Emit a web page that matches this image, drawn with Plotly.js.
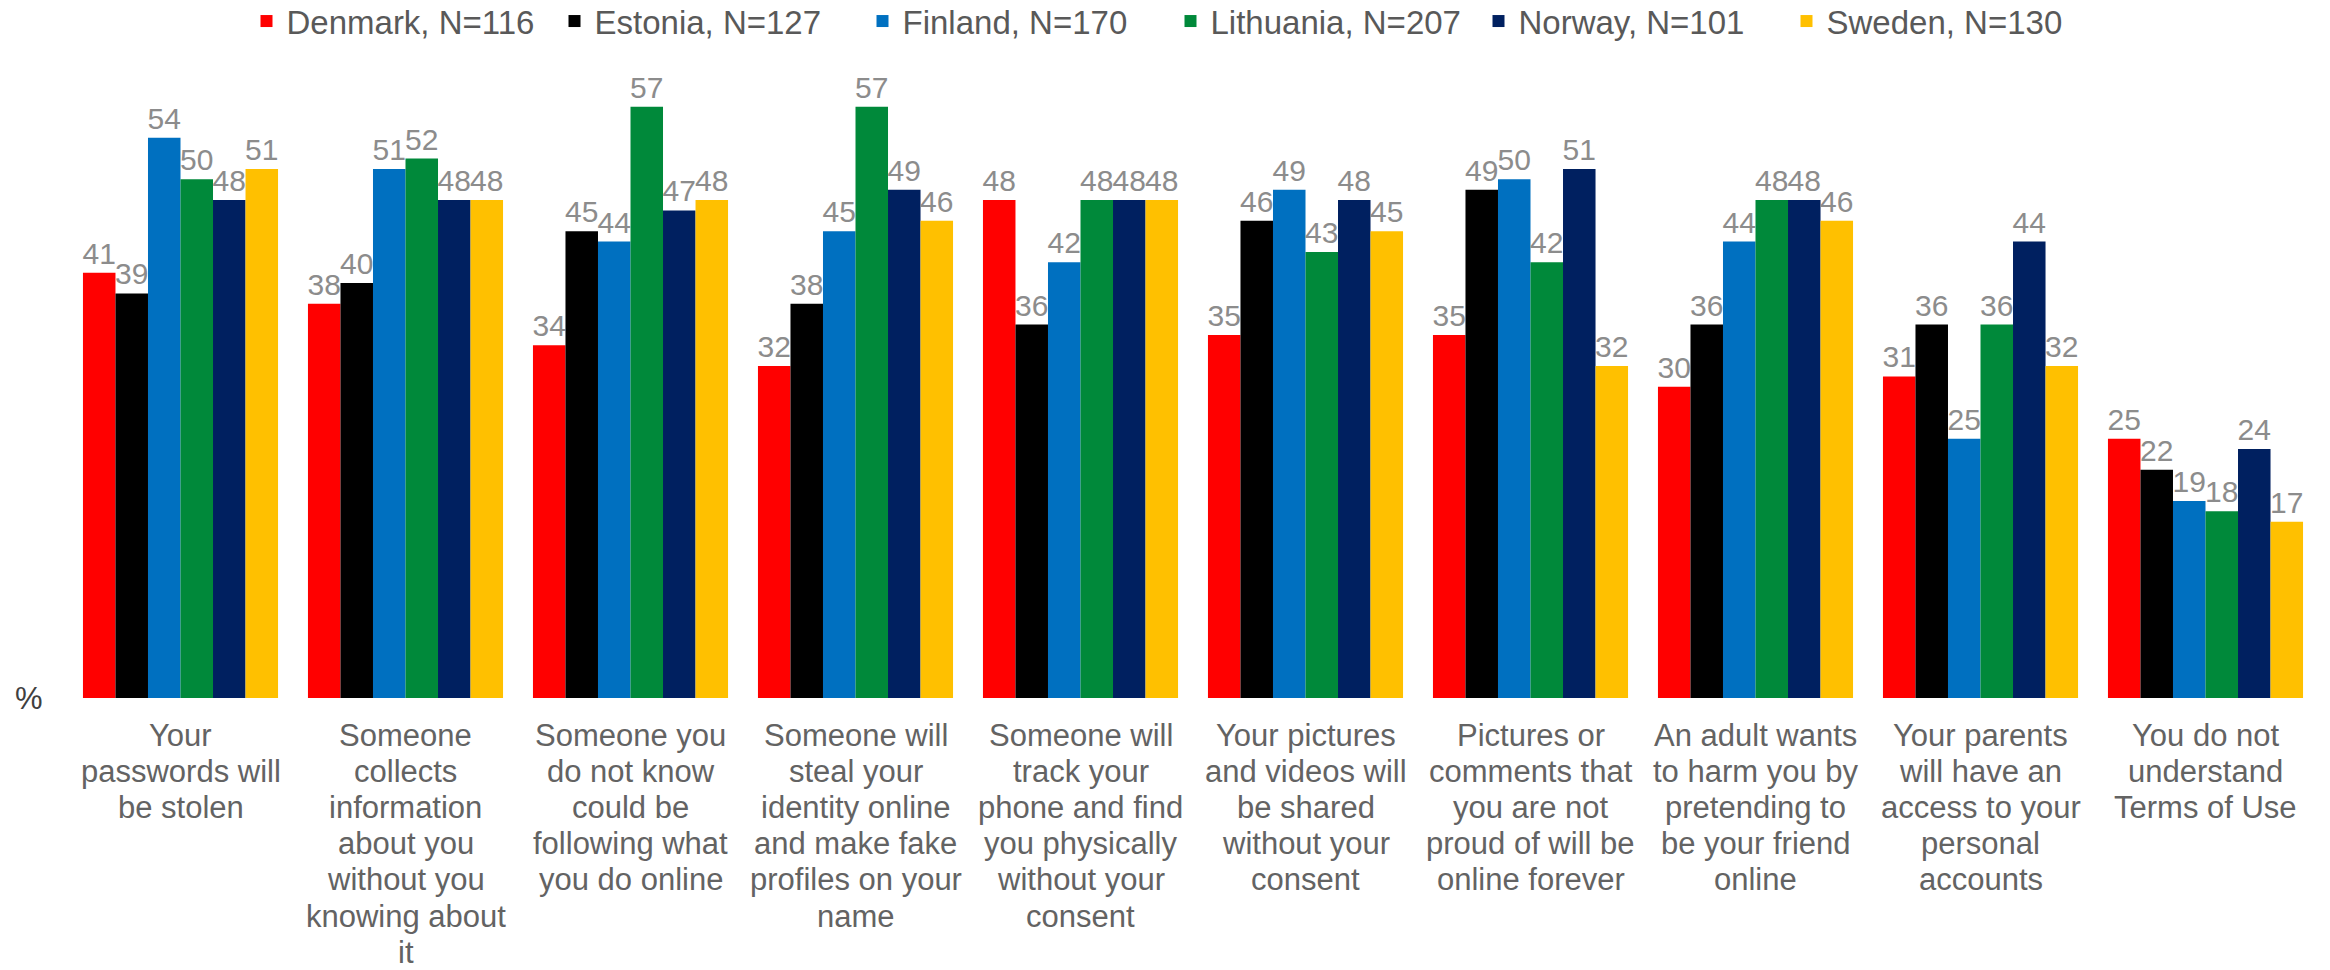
<!DOCTYPE html>
<html>
<head>
<meta charset="utf-8">
<script src="https://cdn.plot.ly/plotly-3.0.1.min.js"></script>
<style>html,body{margin:0;padding:0;background:#fff;}#chart{width:2330px;height:970px;}</style>
</head>
<body>
<div id="chart"></div>
<script>
const categories = [
  "Your<br>passwords will<br>be stolen",
  "Someone<br>collects<br>information<br>about you<br>without you<br>knowing about<br>it",
  "Someone you<br>do not know<br>could be<br>following what<br>you do online",
  "Someone will<br>steal your<br>identity online<br>and make fake<br>profiles on your<br>name",
  "Someone will<br>track your<br>phone and find<br>you physically<br>without your<br>consent",
  "Your pictures<br>and videos will<br>be shared<br>without your<br>consent",
  "Pictures or<br>comments that<br>you are not<br>proud of will be<br>online forever",
  "An adult wants<br>to harm you by<br>pretending to<br>be your friend<br>online",
  "Your parents<br>will have an<br>access to your<br>personal<br>accounts",
  "You do not<br>understand<br>Terms of Use"
];
const seriesNames = ["Denmark, N=116","Estonia, N=127","Finland, N=170","Lithuania, N=207","Norway, N=101","Sweden, N=130"];
const denmark   = [41,38,34,32,48,35,35,30,31,25];
const estonia   = [39,40,45,38,36,46,49,36,36,22];
const finland   = [54,51,44,45,42,49,50,44,25,19];
const lithuania = [50,52,57,57,48,43,42,48,36,18];
const norway    = [48,48,47,49,48,48,51,48,44,24];
const sweden    = [51,48,48,46,48,45,32,46,32,17];
const colors = ["#FF0000","#000000","#0070C0","#00893A","#002060","#FFC000"];
const allSeries = [denmark, estonia, finland, lithuania, norway, sweden];

const FONT = 'Liberation Sans, Arial, sans-serif';

const traces = allSeries.map((vals, i) => ({
  type: 'bar',
  name: seriesNames[i],
  x: categories,
  y: vals,
  marker: {color: colors[i], line: {width: 0}},
  text: vals.map(String),
  textposition: 'outside',
  textfont: {family: FONT, size: 30, color: '#8C8C8C'},
  constraintext: 'none',
  cliponaxis: false,
  hoverinfo: 'skip'
}));

// category labels: one annotation per line, to reproduce the tighter line spacing
const annotations = [];
const LINE = 36.2;
categories.forEach(cat => {
  cat.split('<br>').forEach((line, i) => {
    annotations.push({
      text: line, xref: 'x', yref: 'y', x: cat, y: 0,
      xanchor: 'center', yanchor: 'middle', showarrow: false,
      yshift: -(37 + LINE * i),
      font: {family: FONT, size: 31, color: '#636363'}
    });
  });
});
annotations.push({
  text: '%', xref: 'paper', yref: 'y', x: 0, y: 0, xanchor: 'left', yanchor: 'middle',
  showarrow: false, xshift: -55, font: {family: FONT, size: 31, color: '#404040'}
});

const layout = {
  width: 2330, height: 970,
  margin: {l: 68, r: 12, t: 60, b: 272, autoexpand: false},
  paper_bgcolor: '#fff', plot_bgcolor: '#fff',
  barmode: 'group',
  bargap: 0.133, bargroupgap: 0,
  showlegend: true,
  legend: {
    orientation: 'h', x: 0.490, xanchor: 'center', y: 1.061, yanchor: 'middle',
    font: {family: FONT, size: 33, color: '#595959'},
    itemwidth: 30, traceorder: 'normal', entrywidth: 263, entrywidthmode: 'pixels'
  },
  xaxis: {
    type: 'category', showgrid: false, showline: false, zeroline: false, ticks: '',
    showticklabels: false, automargin: false
  },
  yaxis: {range: [0, 61.5], visible: false, showgrid: false, zeroline: false, fixedrange: true, automargin: false},
  annotations: annotations
};

Plotly.newPlot('chart', traces, layout, {displayModeBar: false, staticPlot: true});
</script>
</body>
</html>
